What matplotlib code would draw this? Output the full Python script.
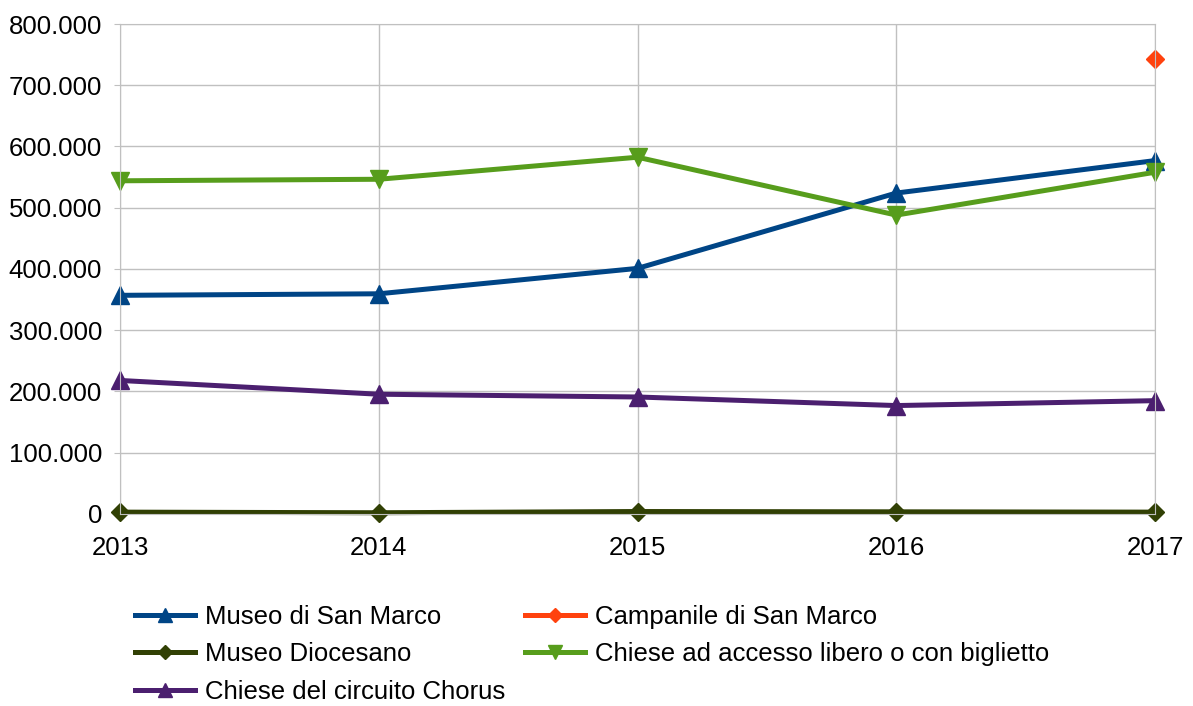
import matplotlib.pyplot as plt
import matplotlib.ticker as mticker
import numpy as np

plt.rcParams['font.family'] = ['Liberation Sans', 'DejaVu Sans']

years = [2013, 2014, 2015, 2016, 2017]
museo_san_marco = [357000, 359500, 401000, 524000, 577000]
campanile = [np.nan, np.nan, np.nan, np.nan, 743000]
museo_diocesano = [3000, 2000, 4000, 3500, 3000]
chiese_libero = [544000, 546500, 582500, 488000, 558000]
chiese_chorus = [218000, 195500, 191000, 177000, 185000]

fig = plt.figure(figsize=(11.93, 7.06), dpi=100)
ax = fig.add_axes([0.1006, 0.272, 0.8676, 0.694])

lw = 3.6
ms = 13
l1, = ax.plot(years, museo_san_marco, color='#004586', lw=lw, marker='^', ms=ms, label='Museo di San Marco', clip_on=False)
l2, = ax.plot(years, campanile, color='#ff420e', lw=lw, marker='D', ms=9, label='Campanile di San Marco', clip_on=False)
l3, = ax.plot(years, museo_diocesano, color='#314004', lw=lw, marker='D', ms=9, label='Museo Diocesano', clip_on=False)
l4, = ax.plot(years, chiese_libero, color='#579d1c', lw=lw, marker='v', ms=ms, label='Chiese ad accesso libero o con biglietto', clip_on=False)
l5, = ax.plot(years, chiese_chorus, color='#4b1f6f', lw=lw, marker='^', ms=ms, label='Chiese del circuito Chorus', clip_on=False)

ax.set_xlim(2013, 2017)
ax.set_ylim(0, 800000)
ax.set_xticks(years)
ax.yaxis.set_major_locator(mticker.MultipleLocator(100000))
ax.yaxis.set_major_formatter(mticker.FuncFormatter(lambda v, p: '{:,.0f}'.format(v).replace(',', '.')))
ax.grid(True, color='#c0c0c0', lw=1)
ax.set_axisbelow(True)
for s in ax.spines.values():
    s.set_color('#c0c0c0')
ax.tick_params(axis='both', labelsize=18.5, colors='#c0c0c0', labelcolor='black', length=4)
ax.tick_params(axis='y', pad=9)
ax.tick_params(axis='x', pad=12)

# row-major order like the original legend
handles = [l1, l3, l5, l2, l4]
fig.legend(handles, [h.get_label() for h in handles], loc='upper left',
           bbox_to_anchor=(0.113, 0.143), ncol=2, frameon=False, fontsize=18.5,
           handlelength=2.33, handletextpad=0.39, columnspacing=0.78, labelspacing=0.52,
           borderaxespad=0.0, borderpad=0.0, markerscale=0.75)

plt.savefig('out.png', dpi=100)
